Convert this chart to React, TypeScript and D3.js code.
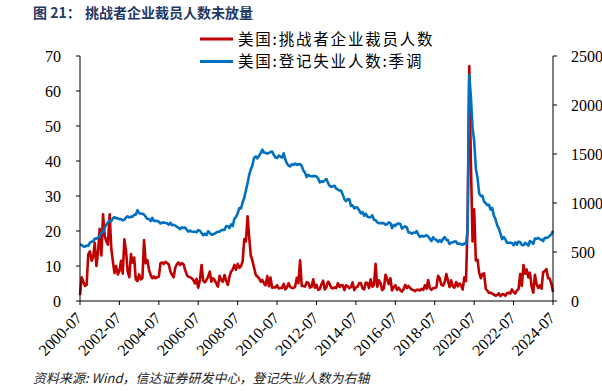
import React from "react";
import * as d3 from "d3";

// ---- data ----
const startMonth = "2000-07";
const endMonth = "2024-07";
const seriesNames = ["美国:挑战者企业裁员人数", "美国:登记失业人数:季调"];
const tickLabels = [
  "2000-07", "2002-07", "2004-07", "2006-07", "2008-07", "2010-07", "2012-07",
  "2014-07", "2016-07", "2018-07", "2020-07", "2022-07", "2024-07",
];
const leftTicks = [0, 10, 20, 30, 40, 50, 60, 70];
const rightTicks = [0, 500, 1000, 1500, 2000, 2500];

// 挑战者企业裁员人数 (万人), monthly 2000-07 .. 2024-07
const layoffs = [
  1.7, 6.8, 5.5, 4.3, 4.6, 13.3,
  14.2, 11.5, 12.5, 16.6, 10.0, 14.0, 20.6, 13.0, 24.8, 18.7, 17.0, 16.1,
  24.8, 15.0, 11.5, 8.0, 10.0, 7.6, 8.5, 11.5, 7.8, 17.6, 14.3, 8.5,
  6.8, 13.4, 11.0, 12.4, 6.2, 5.7, 7.6, 6.2, 6.5, 17.4, 10.8, 11.7,
  8.9, 7.4, 6.5, 7.0, 6.5, 6.8, 7.0, 10.8, 11.0, 10.6, 11.2, 10.8,
  10.5, 8.4, 7.5, 6.8, 9.5, 10.5, 11.0, 10.3, 10.8, 10.5, 8.9, 7.5,
  6.9, 6.8, 6.5, 6.0, 5.0, 6.3, 3.8, 6.0, 10.3, 5.8, 5.3, 6.0,
  7.0, 8.4, 5.5, 6.5, 6.0, 5.0, 4.1, 7.2, 6.0, 5.5, 7.4, 5.8,
  4.6, 7.0, 8.4, 9.0, 10.3, 8.9, 10.6, 9.5, 10.0, 11.3, 17.7, 17.0,
  24.2, 18.0, 13.0, 11.5, 9.5, 7.5, 7.0, 6.5, 5.5, 6.0, 5.0, 4.5,
  7.1, 4.2, 6.7, 3.8, 3.9, 3.9, 4.5, 3.6, 3.7, 3.7, 4.9, 3.3,
  3.9, 5.1, 4.1, 3.7, 3.7, 4.1, 6.6, 5.1, 11.6, 4.3, 4.3, 4.1,
  5.4, 5.2, 3.8, 4.1, 6.2, 3.8, 4.6, 3.2, 3.4, 4.8, 5.8, 3.3,
  4.0, 5.5, 4.9, 3.8, 3.6, 3.9, 3.7, 5.1, 4.0, 4.5, 4.5, 3.1,
  4.5, 4.2, 3.7, 4.0, 5.3, 3.1, 3.9, 4.1, 5.1, 5.1, 3.6, 3.3,
  5.3, 5.1, 3.7, 6.2, 4.1, 4.5, 10.6, 4.1, 5.9, 5.1, 3.1, 3.6,
  7.5, 6.2, 4.8, 6.5, 3.0, 3.9, 4.5, 3.2, 3.8, 3.1, 2.7, 3.4,
  4.6, 3.7, 4.3, 3.7, 3.3, 3.1, 2.8, 3.2, 3.2, 3.0, 3.5, 3.2,
  4.5, 3.5, 6.0, 3.7, 3.2, 3.7, 3.7, 3.9, 7.2, 6.5, 4.6, 4.4,
  5.3, 7.7, 6.0, 4.0, 5.9, 4.2, 3.8, 5.4, 4.2, 5.0, 4.5, 3.3,
  6.8, 5.7, 22.2, 67.1, 39.7, 17.0, 26.2, 11.6, 11.8, 8.1, 6.5, 7.7,
  7.9, 3.5, 3.0, 2.3, 2.4, 2.1, 1.8, 1.5, 1.7, 2.2, 1.4, 1.9,
  1.9, 1.5, 2.2, 2.4, 2.1, 3.3, 2.6, 2.1, 3.0, 3.4, 7.7, 4.3,
  10.3, 7.8, 9.0, 6.7, 8.1, 4.1, 2.4, 7.5, 4.8, 3.7, 4.5, 3.5,
  8.3, 8.5, 9.1, 6.5, 6.4, 4.9, 2.6,
];

// 登记失业人数:季调 (万人), monthly 2000-07 .. 2024-07
const unemployed = [
  577, 571, 557, 554, 565, 563,
  595, 606, 607, 637, 635, 649, 658, 696, 702, 749, 777, 803,
  818, 815, 843, 856, 845, 843, 835, 836, 822, 831, 851, 865,
  852, 862, 861, 879, 880, 926, 898, 891, 892, 881, 860, 836,
  837, 817, 849, 816, 819, 817, 809, 791, 799, 802, 796, 793,
  778, 799, 774, 778, 768, 758, 747, 733, 752, 746, 749, 726,
  707, 718, 709, 707, 706, 702, 723, 717, 694, 670, 687, 672,
  712, 694, 676, 680, 687, 699, 707, 707, 721, 726, 724, 764,
  763, 744, 782, 765, 839, 859, 893, 948, 944, 1008, 1054, 1129,
  1205, 1290, 1340, 1386, 1462, 1475, 1455, 1482, 1508, 1544, 1513, 1513,
  1505, 1510, 1521, 1526, 1491, 1465, 1460, 1483, 1472, 1465, 1507, 1443,
  1403, 1382, 1373, 1395, 1389, 1402, 1391, 1394, 1398, 1379, 1330, 1310,
  1265, 1288, 1276, 1272, 1274, 1275, 1270, 1250, 1210, 1221, 1215, 1231,
  1246, 1203, 1175, 1165, 1171, 1176, 1146, 1138, 1127, 1126, 1085, 1037,
  1019, 1040, 1039, 970, 976, 945, 956, 951, 923, 895, 907, 869,
  891, 860, 855, 855, 874, 830, 825, 803, 794, 796, 795, 794,
  778, 783, 802, 794, 744, 778, 767, 787, 791, 786, 739, 753,
  762, 749, 700, 699, 686, 697, 697, 713, 676, 654, 666, 658,
  663, 671, 658, 635, 612, 651, 629, 624, 603, 622, 602, 634,
  653, 623, 621, 582, 594, 599, 607, 607, 582, 586, 579, 575,
  589, 579, 718, 2308, 2084, 1770, 1631, 1353, 1258, 1097, 1073, 1074,
  1013, 997, 978, 982, 933, 949, 871, 834, 772, 742, 684, 632,
  653, 627, 595, 594, 595, 592, 569, 599, 575, 606, 599, 572,
  569, 594, 584, 566, 612, 602, 584, 636, 635, 644, 629, 627,
  612, 646, 643, 649, 665, 681, 716,
];

const RED = "#C00000";
const BLUE = "#0070C0";
const NUM_FONT = "'Liberation Serif', 'Times New Roman', serif";
const CJK_FONT = "'Noto Sans CJK SC', 'Noto Sans', sans-serif";

export default function App() {
  const W = 602;
  const H = 391;
  const parse = d3.timeParse("%Y-%m");
  const t0 = parse(startMonth) as Date;
  const t1 = parse(endMonth) as Date;
  const left = 80, right = 553, top = 56, bottom = 301;

  const x = d3.scaleTime().domain([t0, t1]).range([left, right]);
  const yL = d3.scaleLinear().domain([0, 70]).range([bottom, top]);
  const yR = d3.scaleLinear().domain([0, 2500]).range([bottom, top]);

  const redDates = layoffs.map((_, i) => d3.timeMonth.offset(t0, i));
  const blueDates = unemployed.map((_, i) => d3.timeMonth.offset(t0, i));

  const redPath = d3
    .line<number>()
    .x((_, i) => x(redDates[i]))
    .y((d) => yL(d))(layoffs) as string;
  const bluePath = d3
    .line<number>()
    .x((_, i) => x(blueDates[i]))
    .y((d) => yR(d))(unemployed) as string;

  return (
    <svg
      width={W}
      height={H}
      style={{ position: "absolute", left: 0, top: 0, background: "#fff" }}
    >
      <rect x={0} y={0} width={W} height={H} fill="#fff" />
      {/* title */}
      <text
        x={33}
        y={18}
        fontFamily={CJK_FONT}
        fontWeight="bold"
        fontSize={14}
        fill="#1F3864"
      >
        <tspan>图 21：</tspan>
        <tspan x={85}>挑战者企业裁员人数未放量</tspan>
      </text>

      {/* legend */}
      <line x1={200} x2={233} y1={39} y2={39} stroke={RED} strokeWidth={3} />
      <text x={238} y={44.5} fontFamily={CJK_FONT} fontSize={15.5} letterSpacing={1.8} fill="#000">
        {seriesNames[0]}
      </text>
      <line x1={200} x2={233} y1={61.5} y2={61.5} stroke={BLUE} strokeWidth={3} />
      <text x={238} y={67} fontFamily={CJK_FONT} fontSize={15.5} letterSpacing={1.8} fill="#000">
        {seriesNames[1]}
      </text>

      {/* series */}
      <path d={redPath} fill="none" stroke={RED} strokeWidth={2.6} strokeLinejoin="round" />
      <path d={bluePath} fill="none" stroke={BLUE} strokeWidth={2.6} strokeLinejoin="round" />

      {/* left axis */}
      <line x1={left} x2={left} y1={top} y2={bottom} stroke="#000" strokeWidth={1} />
      {leftTicks.map((t) => (
        <g key={"l" + t}>
          <line x1={left - 4} x2={left} y1={yL(t)} y2={yL(t)} stroke="#000" />
          <text
            x={61}
            y={yL(t) + 5.5}
            textAnchor="end"
            fontFamily={NUM_FONT}
            fontSize={16}
            fill="#000"
          >
            {t}
          </text>
        </g>
      ))}

      {/* right axis */}
      <line x1={right} x2={right} y1={top} y2={bottom} stroke="#000" strokeWidth={1} />
      {rightTicks.map((t) => (
        <g key={"r" + t}>
          <line x1={right} x2={right + 4} y1={yR(t)} y2={yR(t)} stroke="#000" />
          <text
            x={571}
            y={yR(t) + 5.5}
            textAnchor="start"
            fontFamily={NUM_FONT}
            fontSize={16}
            fill="#000"
          >
            {t}
          </text>
        </g>
      ))}

      {/* bottom axis */}
      <line x1={left} x2={right} y1={bottom} y2={bottom} stroke="#000" strokeWidth={1} />
      {tickLabels.map((lab) => {
        const tx = x(parse(lab) as Date);
        return (
          <g key={lab}>
            <line x1={tx} x2={tx} y1={bottom} y2={bottom + 4} stroke="#000" />
            <text
              transform={`translate(${tx + 3},${bottom + 18}) rotate(-45)`}
              textAnchor="end"
              fontFamily={NUM_FONT}
              fontSize={16}
              fill="#000"
            >
              {lab}
            </text>
          </g>
        );
      })}

      {/* footer */}
      <text
        x={33}
        y={383}
        fontFamily={CJK_FONT}
        fontStyle="italic"
        fontSize={13}
        fill="#222"
      >
        资料来源: Wind，信达证券研发中心，登记失业人数为右轴
      </text>
    </svg>
  );
}
